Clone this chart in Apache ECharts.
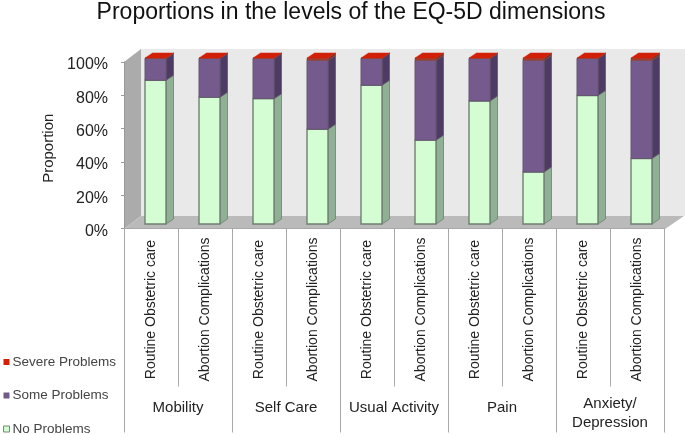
<!DOCTYPE html>
<html>
<head>
<meta charset="utf-8">
<style>
  html, body { margin: 0; padding: 0; background: #fff; }
  #chart { width: 685px; height: 435px; }
</style>
<script src="https://cdn.jsdelivr.net/npm/echarts@6/dist/echarts.min.js"></script>
</head>
<body>
<div id="chart"></div>
<script>
// values
var categories = ['Routine Obstetric care', 'Abortion Complications', 'Routine Obstetric care', 'Abortion Complications', 'Routine Obstetric care', 'Abortion Complications', 'Routine Obstetric care', 'Abortion Complications', 'Routine Obstetric care', 'Abortion Complications']
var groups = ['Mobility', 'Self Care', 'Usual Activity', 'Pain', 'Anxiety/\nDepression']
var noProblems = [86.6, 76.4, 75.5, 57.1, 83.6, 50.5, 74.1, 31.3, 77.4, 39.5]
var someProblems = [13.2, 23.4, 24.3, 41.5, 16.2, 48.1, 25.7, 67.3, 22.4, 59.1]
var severeProblems = [0.2, 0.2, 0.2, 1.4, 0.2, 1.4, 0.2, 1.4, 0.2, 1.4]

var DEPTH_X = 7.5
var DEPTH_Y = 5
var BAR_W = 21
var font = '"Liberation Sans", Arial, sans-serif'

// front, side and top faces of one stacked segment
function box3d(colors, hasTop) {
    return function (params, api) {
        var cat = api.value(0)
        var low = api.coord([cat, api.value(1)])
        var high = api.coord([cat, api.value(2)])
        var x0 = low[0] - BAR_W / 2
        var x1 = low[0] + BAR_W / 2
        var children = [{
            type: 'polygon',
            shape: { points: [[x1, high[1]], [x1 + DEPTH_X, high[1] - DEPTH_Y], [x1 + DEPTH_X, low[1] - DEPTH_Y], [x1, low[1]]] },
            style: { fill: colors.side, stroke: colors.stroke, lineWidth: 0.8 }
        }, {
            type: 'rect',
            shape: { x: x0, y: high[1], width: BAR_W, height: low[1] - high[1] },
            style: { fill: colors.front, stroke: colors.stroke, lineWidth: colors.lineWidth }
        }]
        if (hasTop) {
            children.push({
                type: 'polygon',
                shape: { points: [[x0, high[1]], [x0 + DEPTH_X, high[1] - DEPTH_Y], [x1 + DEPTH_X, high[1] - DEPTH_Y], [x1, high[1]]] },
                style: { fill: colors.top, stroke: colors.top, lineWidth: 0.5 }
            })
        }
        return { type: 'group', children: children }
    }
}

function stacked(lower, values) {
    return values.map(function (v, i) {
        return [i, lower[i], lower[i] + v]
    })
}

var someBase = noProblems
var severeBase = noProblems.map(function (v, i) { return v + someProblems[i] })
var zeros = noProblems.map(function () { return 0 })

// the two line label sits a little higher than the one line labels
var groupData = groups.map(function (g) {
    return g.indexOf('\n') >= 0 ? { value: g, textStyle: { padding: [-4, 0, 0, 0] } } : g
})

var chart = echarts.init(document.getElementById('chart'), null, { renderer: 'canvas' })
chart.setOption({
    animation: false,
    backgroundColor: '#fff',
    title: {
        text: 'Proportions in the levels of the EQ-5D dimensions',
        left: 346,
        top: -4,
        textAlign: 'center',
        textStyle: { fontFamily: font, fontSize: 23, fontWeight: 'normal', color: '#111' }
    },
    legend: {
        orient: 'vertical',
        left: 3,
        top: 355,
        height: 90,
        padding: 0,
        itemWidth: 6,
        itemHeight: 6,
        itemGap: 19.5,
        icon: 'rect',
        textStyle: { fontFamily: font, fontSize: 13.5, color: '#444', padding: [0, 0, 0, -2] },
        data: [
            { name: 'Severe Problems', itemStyle: { color: '#d22008' } },
            { name: 'Some Problems', itemStyle: { color: '#6f5a8a' } },
            { name: 'No Problems', itemStyle: { color: '#d4fdd4', borderColor: '#6f8f70', borderWidth: 1 } }
        ]
    },
    graphic: [
        { type: 'polygon', z: -10, shape: { points: [[141, 49], [685, 49], [685, 216], [141, 216]] }, style: { fill: '#e9e9e9' } },
        { type: 'polygon', z: -10, shape: { points: [[124, 62], [141, 49], [141, 216], [124, 229]] }, style: { fill: '#ababab' } },
        { type: 'polygon', z: -10, shape: { points: [[124, 229], [141, 216], [684, 216], [665, 229]] }, style: { fill: '#bababa' } }
    ],
    grid: [
        { left: 124, top: 62, width: 540, height: 166.5 },
        { left: 128.5, top: 58, width: 540, height: 166 }
    ],
    xAxis: [
        {
            gridIndex: 0,
            type: 'category',
            data: categories,
            axisLine: { show: true, lineStyle: { color: '#a8a8a8', width: 1 } },
            axisTick: { show: true, length: 158, lineStyle: { color: '#a8a8a8' } },
            axisLabel: {
                interval: 0,
                rotate: 90,
                align: 'center',
                verticalAlign: 'middle',
                margin: 81,
                fontFamily: font,
                fontSize: 14,
                color: '#222'
            }
        },
        {
            gridIndex: 0,
            type: 'category',
            position: 'bottom',
            data: groupData,
            axisLine: { show: false },
            axisTick: { show: true, length: 204, lineStyle: { color: '#a8a8a8' } },
            axisLabel: {
                interval: 0,
                margin: 170,
                lineHeight: 19,
                fontFamily: font,
                fontSize: 15,
                color: '#222'
            }
        },
        { gridIndex: 1, type: 'category', data: categories, show: false }
    ],
    yAxis: [
        {
            gridIndex: 0,
            type: 'value',
            min: 0,
            max: 100,
            interval: 20,
            name: 'Proportion',
            nameLocation: 'middle',
            nameGap: 66,
            nameTextStyle: { fontFamily: font, fontSize: 15, color: '#222', padding: [0, 6, 0, 0] },
            axisLine: { show: true, lineStyle: { color: '#9a9a9a' } },
            axisTick: { show: true, length: 3, lineStyle: { color: '#9a9a9a' } },
            splitLine: { show: false },
            axisLabel: {
                margin: 16,
                verticalAlign: 'top',
                padding: [-5, 0, 0, 0],
                formatter: '{value}%',
                fontFamily: font,
                fontSize: 16,
                color: '#222'
            }
        },
        { gridIndex: 1, type: 'value', min: 0, max: 100, show: false }
    ],
    series: [
        {
            name: 'No Problems',
            type: 'custom',
            xAxisIndex: 2,
            yAxisIndex: 1,
            data: stacked(zeros, noProblems),
            encode: { x: 0, y: [1, 2] },
            renderItem: box3d({ front: '#d4fdd4', side: '#8fb095', stroke: '#6f7f70', lineWidth: 1.4 }, false)
        },
        {
            name: 'Some Problems',
            type: 'custom',
            xAxisIndex: 2,
            yAxisIndex: 1,
            data: stacked(someBase, someProblems),
            encode: { x: 0, y: [1, 2] },
            renderItem: box3d({ front: '#755b8d', side: '#4e3b63', stroke: '#65566f', lineWidth: 1 }, false)
        },
        {
            name: 'Severe Problems',
            type: 'custom',
            xAxisIndex: 2,
            yAxisIndex: 1,
            data: stacked(severeBase, severeProblems),
            encode: { x: 0, y: [1, 2] },
            renderItem: box3d({ front: '#a83a2a', side: '#7a2a20', stroke: '#8a4a40', lineWidth: 0.6, top: '#d22008' }, true)
        }
    ]
})
</script>
</body>
</html>
